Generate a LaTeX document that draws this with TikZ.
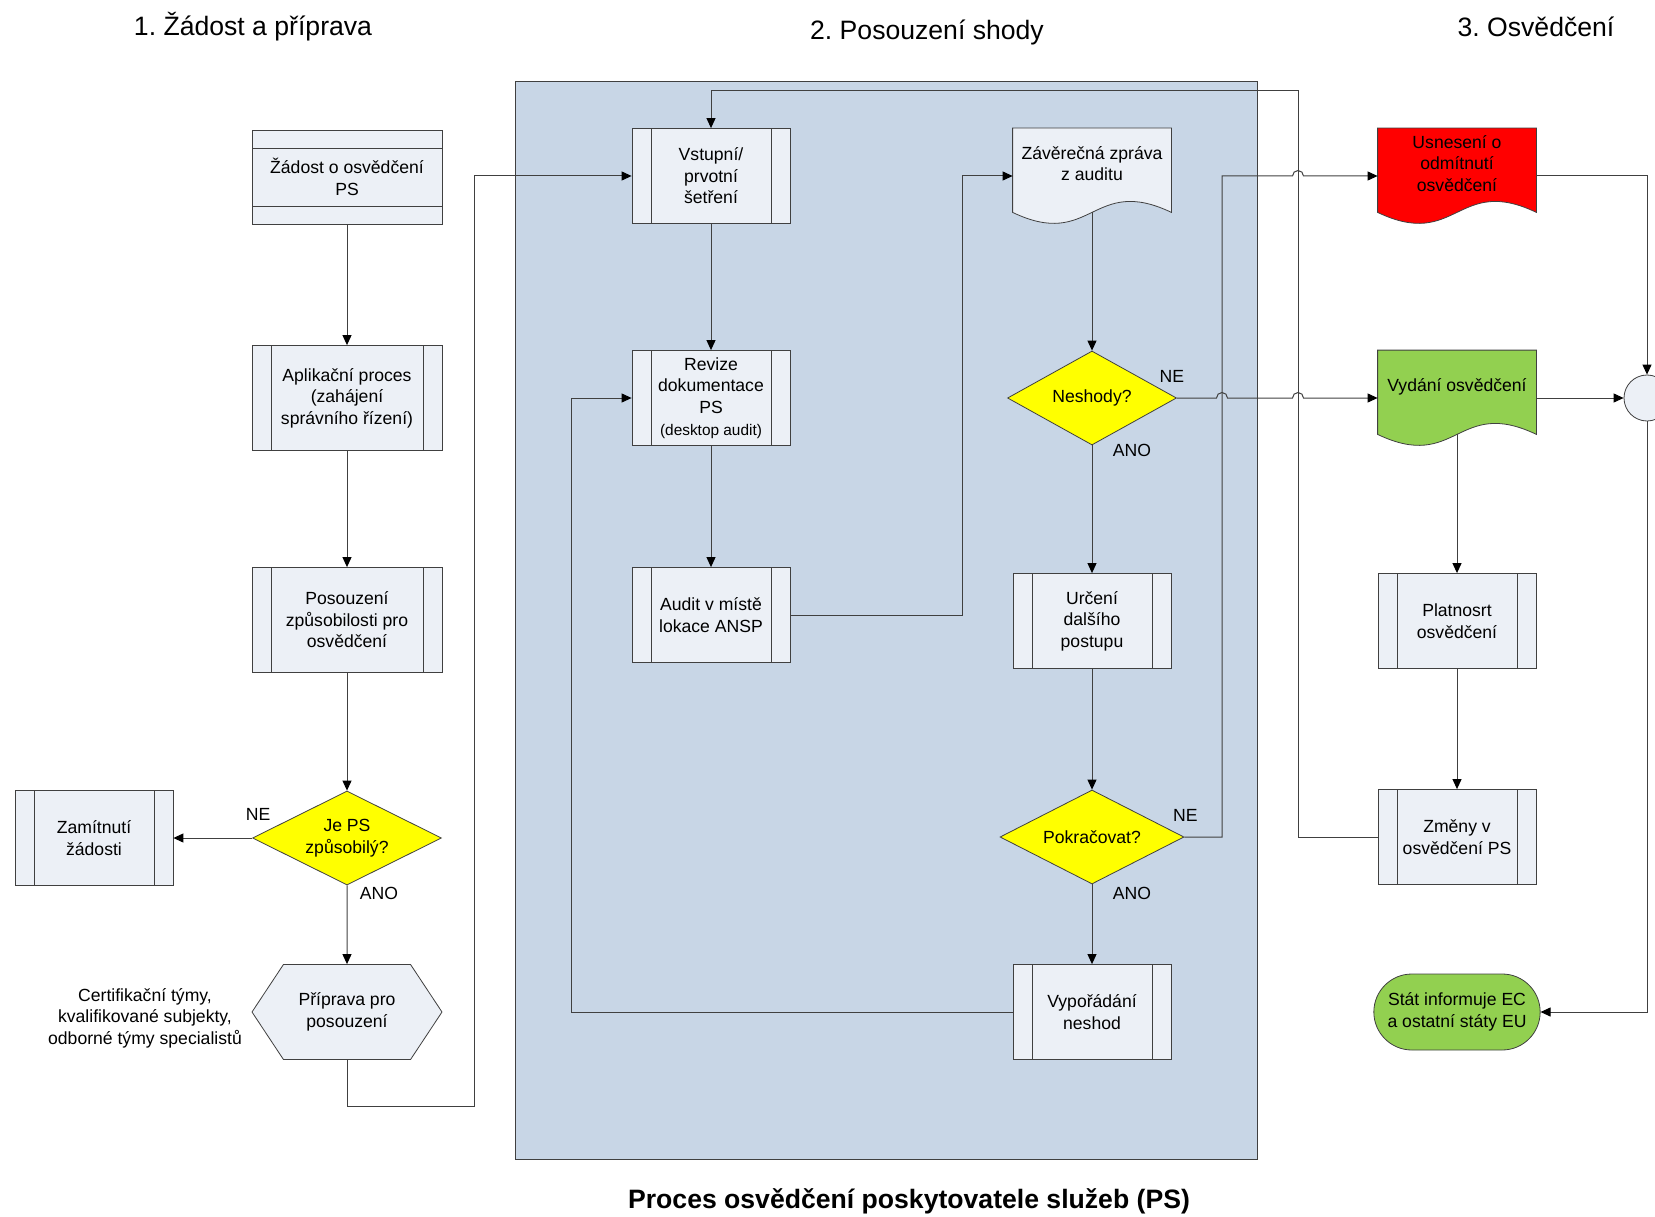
\documentclass[tikz,border=0pt]{standalone}
\usepackage{fontspec}
\setmainfont{Liberation Sans}
\usetikzlibrary{arrows.meta,positioning,backgrounds,calc}
\usetikzlibrary{shapes.geometric,shapes.misc,shapes.symbols}
\frenchspacing

\definecolor{boxfill}{RGB}{236,240,246}
\definecolor{panelblue}{RGB}{200,214,230}
\definecolor{linegray}{RGB}{64,64,64}
\definecolor{decyellow}{RGB}{255,255,0}
\definecolor{okgreen}{RGB}{146,208,80}
\definecolor{nored}{RGB}{255,0,0}

\newcommand{\boxfont}{\fontsize{17.6pt}{21.6pt}\selectfont}
\newcommand{\headfont}{\fontsize{26.6pt}{30pt}\selectfont}

% document shape with a wavy bottom, #1 node, #2 fill
\newcommand{\docpath}[2]{%
  \path[fill=#2, draw=linegray, line width=0.8pt] (#1.north west) -- (#1.north east)
    -- ([yshift=11.5pt]#1.south east)
    .. controls ([yshift=49.5pt]#1.south) and ([yshift=-26.5pt]#1.south) ..
    ([yshift=11.5pt]#1.south west) -- cycle;}

\tikzset{
  % predefined process: box with one more line near each side
  subproc/.style={draw=linegray, fill=boxfill, align=center,
    minimum width=158pt, minimum height=95pt, inner sep=2pt,
    path picture={
      \draw[linegray, line width=0.8pt] ([xshift=19pt]path picture bounding box.north west)
        -- ([xshift=19pt]path picture bounding box.south west);
      \draw[linegray, line width=0.8pt] ([xshift=-19pt]path picture bounding box.north east)
        -- ([xshift=-19pt]path picture bounding box.south east);}},
  wide/.style={minimum width=190pt, minimum height=105pt},
  % request card: box with one more line near top and bottom
  reqbox/.style={draw=linegray, fill=boxfill, align=center,
    minimum width=190pt, minimum height=94pt, inner sep=2pt,
    path picture={
      \draw[linegray, line width=0.8pt] ([yshift=-18pt]path picture bounding box.north west)
        -- ([yshift=-18pt]path picture bounding box.north east);
      \draw[linegray, line width=0.8pt] ([yshift=18pt]path picture bounding box.south west)
        -- ([yshift=18pt]path picture bounding box.south east);}},
  test/.style={draw=linegray, fill=decyellow, diamond, aspect=2, align=center,
    inner sep=1pt, minimum width=169pt, minimum height=94pt},
  prepbox/.style={draw=linegray, fill=boxfill, signal, signal to=west and east,
    signal pointer angle=113, align=center, minimum width=190pt, minimum height=95pt},
  doc/.style={minimum width=158pt, minimum height=95pt, align=center, text depth=25pt},
  term/.style={draw=linegray, fill=okgreen, rounded rectangle, align=center,
    minimum width=173pt, minimum height=76pt},
  junction/.style={draw=linegray, fill=boxfill, circle, minimum size=46pt, inner sep=0pt},
  lbl/.style={inner sep=0pt},
  conn/.style={draw=linegray, line width=1pt,
    -{Triangle[length=10pt,width=9pt,color=black]}}
}

\begin{document}
\begin{tikzpicture}[x=1pt, y=-1pt,
    every node/.style={font=\boxfont, line width=0.8pt},
    ]
\useasboundingbox (0,0) rectangle (1655,1217);

% column headings
\node (headA) at (253,27) {\headfont 1. Žádost a příprava};
\node (headB) at (927,32) {\headfont 2. Posouzení shody};
\node (headC) at (1536,27) {\headfont 3. Osvědčení};
\node (caption) at (909,1201) {\headfont\bfseries Proces osvědčení poskytovatele služeb (PS)};

% 1. request and preparation
\node (req) [reqbox] at (347,177) {Žádost o osvědčení\\PS};
\node (appl) [subproc, wide] at (347,398) {Aplikační proces\\(zahájení\\správního řízení)};
\node (elig) [subproc, wide] at (347,620) {Posouzení\\způsobilosti pro\\osvědčení};
\node (eligq) [test, minimum width=189pt] at (347,838) {Je PS\\způsobilý?};
\node (reject) [subproc] at (94,838) {Zamítnutí\\žádosti};
\node (prep) [prepbox] at (347,1012) {Příprava pro\\posouzení};
\node (teams) [align=center] at (145,1018)
{Certifikační týmy,\\kvalifikované subjekty,\\odborné týmy specialistů};

% 2. conformity assessment
\node (entry) [subproc] at (711,176) {Vstupní/\\prvotní\\šetření};
\node (review) [subproc] at (711,398)
{Revize\\dokumentace\\PS\\{\fontsize{15.4pt}{18pt}\selectfont (desktop audit)}};
\node (audit) [subproc] at (711,615) {Audit v místě\\lokace ANSP};
\node (report) [doc] at (1092,176) {Závěrečná zpráva\\z auditu};
\node (nonconf) [test] at (1092,398) {Neshody?};
\node (next) [subproc] at (1092,621) {Určení\\dalšího\\postupu};
\node (contq) [test, minimum width=184pt] at (1092,837) {Pokračovat?};
\node (settle) [subproc] at (1092,1012) {Vypořádání\\neshod};

% 3. certificate
\node (refuse) [doc] at (1457,176) {Usnesení o\\odmítnutí\\osvědčení};
\node (issue) [doc] at (1457,398) {Vydání osvědčení};
\node (valid) [subproc] at (1457,621) {Platnosrt\\osvědčení};
\node (change) [subproc] at (1457,837) {Změny v\\osvědčení PS};
\node (inform) [term] at (1457,1012) {Stát informuje EC\\a ostatní státy EU};
\node (junc) [junction] at (1647,398) {};

\begin{scope}[on background layer]
\fill[panelblue, draw=linegray, line width=0.8pt] (515,81) rectangle (1257,1159);
\docpath{report}{boxfill}
\docpath{refuse}{nored}
\docpath{issue}{okgreen}
\end{scope}

% main flow
\draw [conn] (req) -- (appl);
\draw [conn] (appl) -- (elig);
\draw [conn] (elig) -- (eligq);
\draw [conn] (eligq) -- (prep);
\draw [conn] (eligq.west) -- (reject.east);
\draw [conn] (entry) -- (review);
\draw [conn] (review) -- (audit);
\draw [conn] ([yshift=11.5pt]report.south) -- (nonconf);
\draw [conn] (nonconf) -- (next);
\draw [conn] (next) -- (contq);
\draw [conn] (contq) -- (settle);
\draw [conn] ([yshift=11.5pt]issue.south) -- (valid);
\draw [conn] (valid) -- (change);

\coordinate (fw) at (474,1106); %fw -- forward
\draw [conn] (prep.south) |- (fw) |- (entry.west);

\coordinate (fw1) at (962,176);
\draw [conn] (audit.east) -| (fw1) -- (report.west);

\coordinate (fb) at (571,1012); %fb -- feedback
\draw [conn] (settle.west) -- (fb) |- (review.west);

% jumps where lines cross
\coordinate (jA) at (1222,398);
\coordinate (jB) at (1298,398);
\coordinate (jC) at (1298,176);
\draw [conn] (nonconf.east) -- ([xshift=-5.5pt]jA) arc (180:360:5.5)
  -- ([xshift=-5.5pt]jB) arc (180:360:5.5) -- (issue.west);

\coordinate (fb1) at (1222,176);
\draw [conn] (contq.east) -| (fb1) -- ([xshift=-5.5pt]jC) arc (180:360:5.5) -- (refuse.west);

\coordinate (fb2) at (1298,91);
\draw [conn] (change.west) -| (fb2) -| (entry.north);

\draw [conn] (refuse.east) -| (junc.north);
\draw [conn] (issue.east) -- (junc.west);
\draw [conn] (junc.south) |- (inform.east);

% decision labels
\node (neA) [lbl] at ([shift={(6,-24)}]eligq.west) {NE};
\node (anoA) [lbl] at ([shift={(32,8)}]eligq.south) {ANO};
\node (neB) [lbl] at ([shift={(-5,-22)}]nonconf.east) {NE};
\node (anoB) [lbl] at ([shift={(40,5)}]nonconf.south) {ANO};
\node (neC) [lbl] at ([shift={(1,-22)}]contq.east) {NE};
\node (anoC) [lbl] at ([shift={(40,9)}]contq.south) {ANO};

\end{tikzpicture}
\end{document}
